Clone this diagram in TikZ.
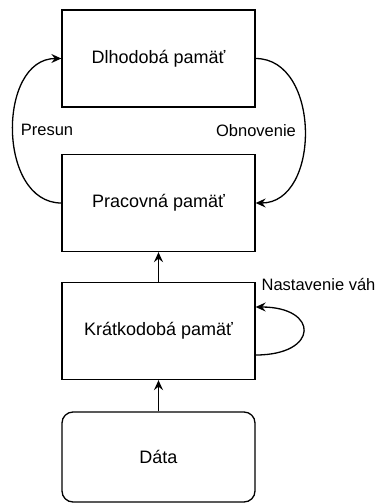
\documentclass[tikz,border=0pt]{standalone}
\usepackage{fontspec}
\setmainfont{Liberation Sans}
\usetikzlibrary{arrows.meta}
\begin{document}
\begin{tikzpicture}[x=1pt,y=-1pt,
  line width=1.3pt,
  memory/.style={draw, rectangle, minimum width=193pt, minimum height=97pt,
    inner sep=0pt, font=\fontsize{18}{22}\selectfont},
  source/.style={memory, rounded corners=11pt},
  edgelabel/.style={font=\fontsize{16.5}{20}\selectfont, inner sep=0pt},
  flow/.style={-{Stealth[length=10pt,width=9pt,inset=3.5pt]}}]
  \useasboundingbox (0,0) rectangle (379,504);

  % memory stores, top to bottom
  \node[memory] (long)  at (158.5,58.5)  {Dlhodobá pamäť};
  \node[memory] (work)  at (158.5,203)   {Pracovná pamäť};
  \node[memory] (short) at (158.5,331)   {Krátkodobá pamäť};
  \node[source, minimum height=90pt] (data) at (158.5,457) {Dáta};

  % upward flow
  \draw[flow] (data) -- (short);
  \draw[flow] (short) -- (work);

  % exchange between working and long-term memory
  \draw[flow] (work.west) to[out=180,in=180,looseness=1.14] (long.west);
  \draw[flow] (long.east) to[out=0,in=0,looseness=1.16] (work.east);
  \node[edgelabel] (presun) at (47,130) {Presun};
  \node[edgelabel] (obnov) at (256,131) {Obnovenie};

  % weight adjustment loop
  \draw[flow] ([yshift=-24pt]short.east) to[out=0,in=0,looseness=3.4] ([yshift=24pt]short.east);
  \node[edgelabel, anchor=west] (weights) at (261,285) {Nastavenie váh};
\end{tikzpicture}
\end{document}
